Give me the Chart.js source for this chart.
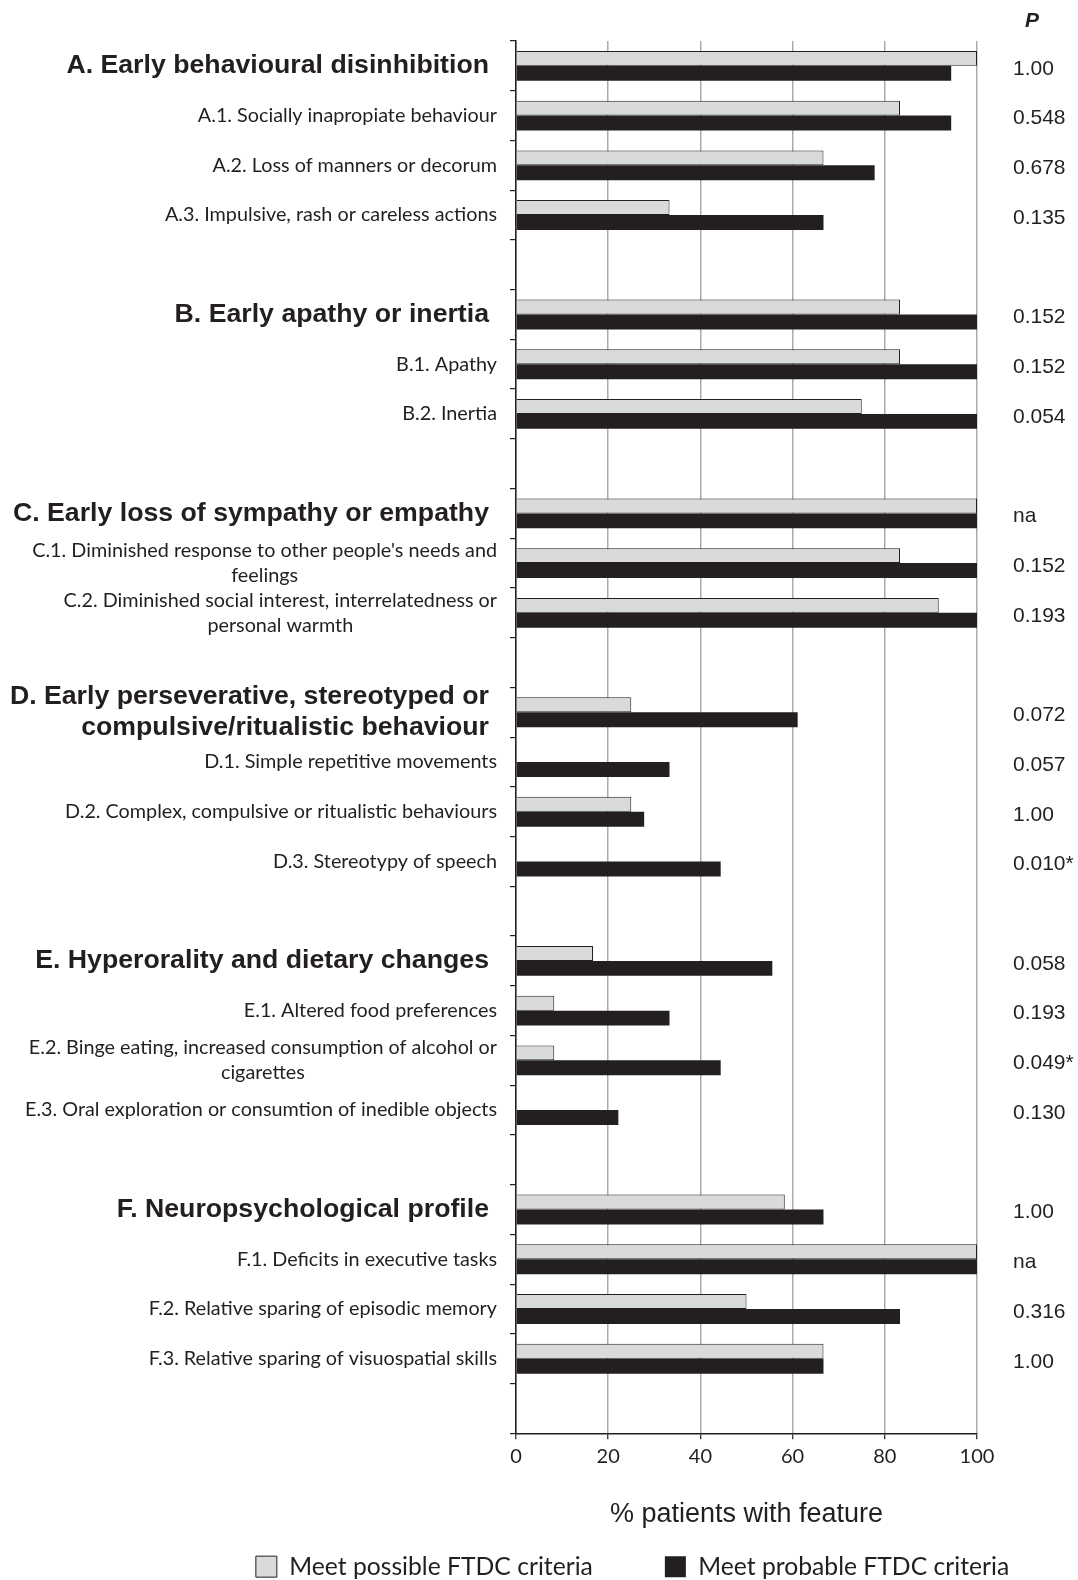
<!DOCTYPE html>
<html><head><meta charset="utf-8">
<script src="https://cdn.jsdelivr.net/npm/chart.js@4/dist/chart.umd.min.js"></script>
<style>html,body{margin:0;padding:0;background:#fff}canvas{display:block}</style>
</head><body>
<canvas id="c" width="1078" height="1580"></canvas>
<script>
const categories = [
  'A. Early behavioural disinhibition',
  'A.1. Socially inapropiate behaviour',
  'A.2. Loss of manners or decorum',
  'A.3. Impulsive, rash or careless actions',
  '',
  'B. Early apathy or inertia',
  'B.1. Apathy',
  'B.2. Inertia',
  '',
  'C. Early loss of sympathy or empathy',
  ["C.1. Diminished response to other people's needs and", 'feelings'],
  ['C.2. Diminished social interest, interrelatedness or', 'personal warmth'],
  '',
  ['D. Early perseverative, stereotyped or', 'compulsive/ritualistic behaviour'],
  'D.1. Simple repetitive movements',
  'D.2. Complex, compulsive or ritualistic behaviours',
  'D.3. Stereotypy of speech',
  '',
  'E. Hyperorality and dietary changes',
  'E.1. Altered food preferences',
  ['E.2. Binge eating, increased consumption of alcohol or', 'cigarettes'],
  'E.3. Oral exploration or consumtion of inedible objects',
  '',
  'F. Neuropsychological profile',
  'F.1. Deficits in executive tasks',
  'F.2. Relative sparing of episodic memory',
  'F.3. Relative sparing of visuospatial skills',
  ''
];
const possible = [100, 83.3, 66.7, 33.3, null, 83.3, 83.3, 75, null, 100, 83.3, 91.7, null, 25, 0, 25, 0, null, 16.7, 8.3, 8.3, 0, null, 58.3, 100, 50, 66.7, null];
const probable = [94.4, 94.4, 77.8, 66.7, null, 100, 100, 100, null, 100, 100, 100, null, 61.1, 33.3, 27.8, 44.4, null, 55.6, 33.3, 44.4, 22.2, null, 66.7, 100, 83.3, 66.7, null];
const pValues = ['1.00', '0.548', '0.678', '0.135', '', '0.152', '0.152', '0.054', '', 'na', '0.152', '0.193', '', '0.072', '0.057', '1.00', '0.010*', '', '0.058', '0.193', '0.049*', '0.130', '', '1.00', 'na', '0.316', '1.00', ''];
const seriesNames = ['Meet possible FTDC criteria', 'Meet probable FTDC criteria'];
const xTicks = [0, 20, 40, 60, 80, 100];
const pHeader = 'P';

const INK = '#231f20';

const rowLabels = {
  id: 'rowLabels',
  afterDraw(chart) {
    const ctx = chart.ctx, y = chart.scales.y, left = chart.chartArea.left;
    ctx.save();
    ctx.fillStyle = INK;
    ctx.textBaseline = 'middle';
    categories.forEach((lab, i) => {
      if (!lab) return;
      const lines = Array.isArray(lab) ? lab : [lab];
      const header = /^[A-F]\. /.test(lines[0]);
      ctx.font = header ? 'bold 26.7px "Liberation Sans", Arial, sans-serif' : '19.8px Lato, sans-serif';
      const lh = header ? 31 : 25;
      const right = header ? left - 27 : left - 19;
      const w = Math.max(...lines.map(l => ctx.measureText(l).width));
      const cy = y.getPixelForValue(i);
      lines.forEach((l, k) => {
        const ly = cy + (k - (lines.length - 1) / 2) * lh;
        if (header) { ctx.textAlign = 'right'; ctx.fillText(l, right, ly); }
        else { ctx.textAlign = 'center'; ctx.fillText(l, right - w / 2, ly); }
      });
    });
    const y2 = chart.scales.y2;
    ctx.font = 'italic bold 21px "Liberation Sans", Arial, sans-serif';
    ctx.textAlign = 'left';
    ctx.fillText(pHeader, y2.left + 48, 21);
    ctx.restore();
  }
};

function noEndPadding(s) { s.paddingTop = 0; s.paddingBottom = 0; }

new Chart(document.getElementById('c'), {
  type: 'bar',
  data: {
    labels: categories,
    datasets: [
      { label: seriesNames[0], data: possible, backgroundColor: '#d9dadb', borderColor: INK, borderWidth: 1 },
      { label: seriesNames[1], data: probable, backgroundColor: INK, borderColor: INK, borderWidth: 0 }
    ]
  },
  options: {
    indexAxis: 'y',
    responsive: false,
    animation: false,
    categoryPercentage: 0.6,
    barPercentage: 1,
    layout: { padding: { left: 180, right: -7, top: 41, bottom: -9 } },
    scales: {
      x: {
        min: 0, max: 100,
        afterBuildTicks(s) { s.ticks = xTicks.map(v => ({ value: v })); },
        ticks: { font: { family: 'Lato', size: 20 }, color: INK, padding: 5 },
        grid: { color: '#ababab', lineWidth: 1.5, tickColor: INK, tickLength: 6, tickWidth: 1.2 },
        border: { color: INK, width: 1.5 },
        title: { display: true, text: '% patients with feature', font: { family: 'Liberation Sans', size: 27 }, color: INK, padding: { top: 0, bottom: -48 } },
        afterFit(s) { s.height = 49; }
      },
      y: {
        type: 'category',
        ticks: { display: false },
        grid: { drawOnChartArea: false, tickLength: 6, color: INK, offset: true, lineWidth: 1.2 },
        border: { color: INK, width: 1.5 },
        afterFit(s) { s.width = 336; noEndPadding(s); }
      },
      y2: {
        type: 'category',
        position: 'right',
        labels: pValues,
        offset: true,
        grid: { display: false, drawTicks: false },
        border: { display: false },
        ticks: { padding: 36, autoSkip: false, labelOffset: 3, font: { family: 'Liberation Sans', size: 21 }, color: INK },
        afterFit(s) { s.width = 108; noEndPadding(s); }
      }
    },
    plugins: {
      legend: {
        position: 'bottom',
        labels: { boxWidth: 21, boxHeight: 21, padding: 72, font: { family: 'Lato', size: 24.7 }, color: INK }
      },
      tooltip: { enabled: false }
    }
  },
  plugins: [rowLabels]
});
</script>
</body></html>
